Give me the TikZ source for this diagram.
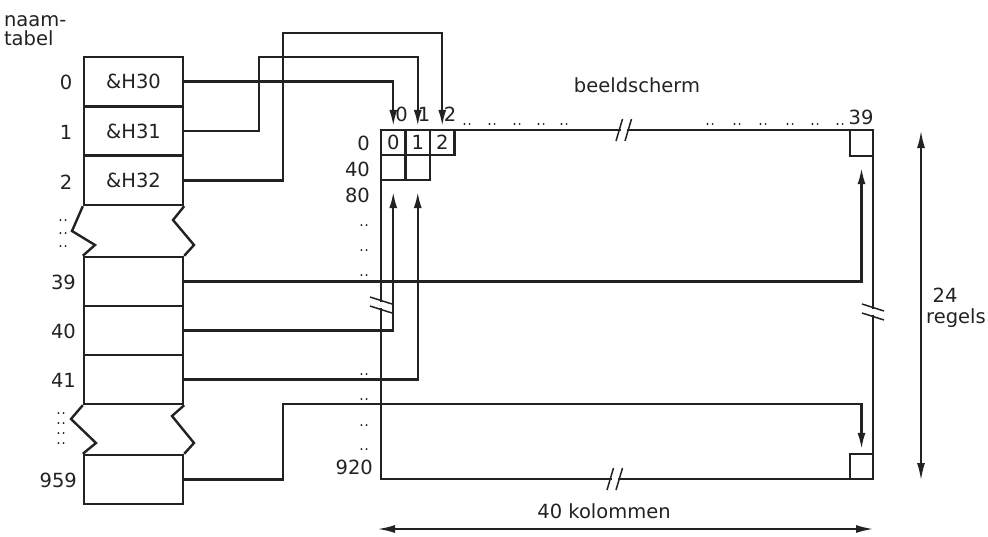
\documentclass[tikz,border=0pt]{standalone}
\usepackage{fontspec}
\setmainfont{DejaVu Sans}
\usetikzlibrary{arrows.meta}
\definecolor{ink}{HTML}{222222}
\newcommand\brkV[1]{\begin{scope}[shift={#1}]
  \fill[white] (-2.5,-3.2) rectangle (2.5,3.2);
  \draw[line width=1.5pt] (-11,-8)--(11,-1) (-11,1)--(11,8);
\end{scope}}
\newcommand\brkH[1]{\begin{scope}[shift={#1}]
  \fill[white] (-3.2,-2.5) rectangle (3.2,2.5);
  \draw[line width=1.5pt] (-1.5,-11)--(-8,11) (7.5,-11)--(1,11);
\end{scope}}
\newcommand\dotpr[1]{\fill #1 ++(-2.6,0) circle (1.1pt) ++(5.2,0) circle (1.1pt);}
\begin{document}
\begin{tikzpicture}[x=1pt,y=-1pt,color=ink,line width=2.2pt,
  lbl/.style={font=\fontsize{19.5}{21}\selectfont,text=ink,inner sep=0pt},
  tcell/.style={draw,line width=2.4pt,minimum width=99pt,minimum height=49pt,inner sep=0pt,font=\fontsize{19.5}{21}\selectfont},
  scell/.style={draw,line width=2.2pt,minimum width=24.5pt,minimum height=25pt,inner sep=0pt,font=\fontsize{19.5}{21}\selectfont},
  ccell/.style={draw,line width=2.2pt,minimum width=23pt,minimum height=25pt,inner sep=0pt},
  conn/.style={line width=2.1pt},
  arr/.style={-{Latex[length=16pt,width=8pt]}},
  dimarr/.style={line width=1.7pt,{Latex[length=17pt,width=8pt]}-{Latex[length=17pt,width=8pt]}}]
\useasboundingbox (0,0) rectangle (988,536);
\fill[white] (0,0) rectangle (988,536);

% name table
\node[lbl,anchor=base west] (nt1) at (3,26) {naam-};
\node[lbl,anchor=base west] (nt2) at (3,45) {tabel};
\node[tcell] (t0) at (133.5,81.5) {\&H30};
\node[tcell] (t1) at (133.5,131) {\&H31};
\node[tcell] (t2) at (133.5,180.5) {\&H32};
\node[tcell] (t39) at (133.5,281.5) {};
\node[tcell] (t40) at (133.5,330.5) {};
\node[tcell] (t41) at (133.5,379.5) {};
\node[tcell] (t959) at (133.5,479.5) {};
\draw[line width=2.4pt] (t2.south west) -- (72,231) -- (95,245) -- (t39.north west);
\draw[line width=2.4pt] (t2.south east) -- (173,220) -- (194,245) -- (t39.north east);
\draw[line width=2.4pt] (t41.south west) -- (71,419) -- (96,443) -- (t959.north west);
\draw[line width=2.4pt] (t41.south east) -- (172,416) -- (194,443) -- (t959.north east);
\node[lbl] (r0) at (66,82) {0};
\node[lbl] (r1) at (66,132) {1};
\node[lbl] (r2) at (66,182) {2};
\node[lbl,anchor=east] (r39) at (77,282) {39};
\node[lbl,anchor=east] (r40) at (77,331) {40};
\node[lbl,anchor=east] (r41) at (77,380) {41};
\node[lbl,anchor=east] (r959) at (78,480) {959};
\foreach \y in {220,233,246} {\dotpr{(63,\y)}}
\foreach \y in {413,423,433,443} {\dotpr{(61,\y)}}

% screen
\coordinate (sTL) at (381,130);
\coordinate (sTR) at (873,130);
\coordinate (sBR) at (873,479);
\coordinate (sBL) at (381,479);
\draw[line width=2.5pt] (sTL) -- (sTR) -- (sBR) -- (sBL) -- cycle;
\node[scell] (c0) at (393.25,142.5) {0};
\node[scell] (c1) at (417.75,142.5) {1};
\node[scell] (c2) at (442.25,142.5) {2};
\node[scell] (d0) at (393.25,167.5) {};
\node[scell] (d1) at (417.75,167.5) {};
\node[ccell,minimum height=26pt] (e39) at (861.5,143) {};
\node[ccell] (e920) at (861.5,466.5) {};

\node[lbl] (h0) at (401.5,114) {0};
\node[lbl] (h1) at (424,114) {1};
\node[lbl] (h2) at (450,114) {2};
\node[lbl] (k39) at (861,117) {39};
\node[lbl,anchor=east] (l0) at (371,143) {0};
\node[lbl,anchor=east] (l40) at (371,169) {40};
\node[lbl,anchor=east] (l80) at (371,195) {80};
\node[lbl,anchor=east] (l920) at (374,467) {920};
\node[lbl] (bs) at (637,85) {beeldscherm};
\node[lbl] (kol) at (604,511) {40 kolommen};
\node[lbl] (n24) at (945,295) {24};
\node[lbl] (reg) at (956,318) {regels};

\foreach \x in {467,492,517,541,564} {\dotpr{(\x,124)}}
\foreach \x in {710,737,763,790,815,840} {\dotpr{(\x,124)}}
\foreach \y in {225,250,275,374,399,425,449} {\dotpr{(364,\y)}}

\brkV{(381,305)}
\brkV{(873,312)}
\brkH{(624,130)}
\brkH{(615,479)}

% connectors
\draw[conn,arr] (t0.east) -| ([yshift=3pt]c0.north);
\draw[conn,arr] (t1.east) -| (259,57) -| ([yshift=3pt]c1.north);
\draw[conn,arr] (t2.east) -| (283,33) -| ([yshift=3pt]c2.north);
\draw[conn,arr] (t39.east) -| ([yshift=-11pt]e39.south);
\draw[conn,arr] (t40.east) -| ([yshift=-11pt]d0.south);
\draw[conn,arr] (t41.east) -| ([yshift=-11pt]d1.south);
\draw[conn,arr] (t959.east) -| (283,404) -| ([yshift=4pt]e920.north);

% dimensions
\coordinate (v1) at (921,131);
\coordinate (v2) at (921,480);
\coordinate (hA) at (378,529);
\coordinate (hB) at (873,529);
\draw[dimarr] (v1) -- (v2);
\draw[dimarr] (hA) -- (hB);
\end{tikzpicture}
\end{document}
